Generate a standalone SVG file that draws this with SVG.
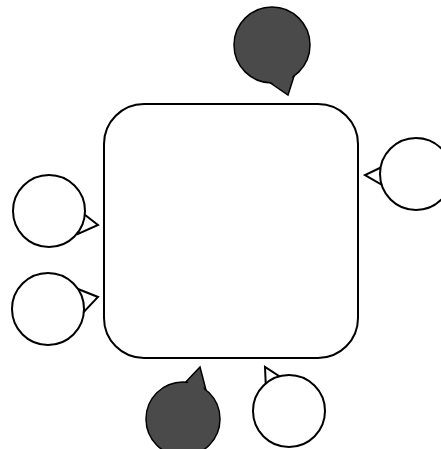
<svg xmlns="http://www.w3.org/2000/svg" width="441" height="449" viewBox="0 0 441 449">
<style>
.w{fill:#fff;stroke:#000;stroke-width:2;stroke-linejoin:miter}
.d{fill:#4a4a4a;stroke:#000;stroke-width:1.5}
</style>
<rect width="441" height="449" fill="#fff"/>
<g id="main"><rect class="w" x="104" y="104" width="254" height="254" rx="40" ry="40"/></g>
<g id="connectors"></g>
<g id="top-dark">
<polygon class="d" points="266,80 288,95 296,70"/>
<circle class="d" cx="272" cy="45" r="38"/>
<polygon points="268,80 287,93 294,72" fill="#4a4a4a"/>
</g>
<g id="right">
<polygon class="w" points="384,166 365,175 384,186"/>
<circle class="w" cx="416" cy="174" r="36"/>
</g>
<g id="left-top">
<polygon class="w" points="80,211 98,225 78,234"/>
<circle class="w" cx="49" cy="211" r="36"/>
</g>
<g id="left-bottom">
<polygon class="w" points="78,289 98,297 80,316"/>
<circle class="w" cx="48" cy="309" r="36"/>
</g>
<g id="bottom-dark">
<polygon class="d" points="182,386 200,367 206,390"/>
<circle class="d" cx="183" cy="419" r="37"/>
<polygon points="185,386 199,370 204,390" fill="#4a4a4a"/>
</g>
<g id="bottom-right">
<polygon class="w" points="266,390 265,367 282,378"/>
<circle class="w" cx="289" cy="411" r="36"/>
</g>
</svg>
